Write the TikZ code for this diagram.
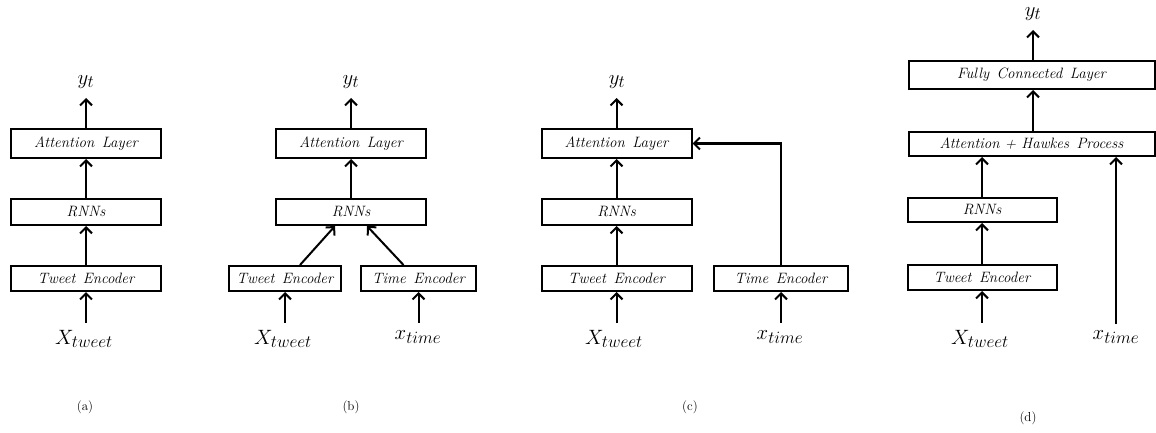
\documentclass[tikz,border=0pt]{standalone}
\usetikzlibrary{arrows.meta,calc}
% larger subscripts for the input and output symbols
\DeclareMathSizes{22}{22}{18}{14}
\DeclareMathSizes{21}{21}{16}{12}
\newcommand\wsp{\hspace{0.5em}}
\tikzset{
  blk/.style={draw, line width=2pt, inner sep=0pt, minimum height=27pt,
    font=\fontsize{15}{17}\selectfont\itshape},
  arr/.style={line width=2pt, -{Straight Barb[length=6pt,width=12pt,line width=2pt]}},
  outlbl/.style={inner sep=0pt, font=\fontsize{21}{23}\selectfont},
  inlbl/.style={inner sep=0pt, font=\fontsize{22}{24}\selectfont},
  subcap/.style={inner sep=0pt, font=\fontsize{13}{15}\selectfont},
}
\begin{document}
\begin{tikzpicture}[x=1pt,y=-1pt]
\useasboundingbox (0,0) rectangle (1156,433);

% ---------- (a) ----------
\node[blk, minimum width=150pt, minimum height=29pt] (aatt) at (86,143.5) {Attention\wsp Layer};
\node[blk, minimum width=150pt, minimum height=26pt] (arnn) at (86,212) {RNNs};
\node[blk, minimum width=150pt, minimum height=25pt] (atw) at (86,278.5) {Tweet\wsp Encoder};
\node[outlbl] (ay) at (86,82) {$y_t$};
\node[inlbl] (ax) at (84,339) {$X_{tweet}$};
\coordinate (ayo) at (86,98);
\coordinate (axi) at (86,323);
\draw[arr] (aatt.north) -- (ayo);
\draw[arr] (arnn.north) -- (aatt.south);
\draw[arr] (atw.north) -- (arnn.south);
\draw[arr] (axi) -- (atw.south);
\node[subcap] (acap) at (85,407) {(a)};

% ---------- (b) ----------
\node[blk, minimum width=150pt, minimum height=29pt] (batt) at (351,143.5) {Attention\wsp Layer};
\node[blk, minimum width=150pt, minimum height=26pt] (brnn) at (351,212) {RNNs};
\node[blk, minimum width=112pt, minimum height=25pt] (btw) at (285,278.5) {Tweet\wsp Encoder};
\node[blk, minimum width=115pt, minimum height=25pt] (btm) at (418.5,278.5) {Time\wsp Encoder};
\node[outlbl] (by) at (351,82) {$y_t$};
\node[inlbl] (bx) at (283,339) {$X_{tweet}$};
\node[inlbl] (bxt) at (418,337) {$x_{time}$};
\coordinate (byo) at (351,98);
\coordinate (bxi) at (285,323);
\coordinate (bti) at (418.5,323);
\draw[arr] (batt.north) -- (byo);
\draw[arr] (brnn.north) -- (batt.south);
\draw[arr] ([xshift=15pt]btw.north) -- ([xshift=-16pt]brnn.south);
\draw[arr] ([xshift=-15pt]btm.north) -- ([xshift=16pt]brnn.south);
\draw[arr] (bxi) -- (btw.south);
\draw[arr] (bti) -- (btm.south);
\node[subcap] (bcap) at (351,407) {(b)};

% ---------- (c) ----------
\node[blk, minimum width=150pt, minimum height=29pt] (catt) at (616.5,143.5) {Attention\wsp Layer};
\node[blk, minimum width=150pt, minimum height=26pt] (crnn) at (616.5,212) {RNNs};
\node[blk, minimum width=150pt, minimum height=25pt] (ctw) at (616.5,278.5) {Tweet\wsp Encoder};
\node[blk, minimum width=134pt, minimum height=25pt] (ctm) at (781,278.5) {Time\wsp Encoder};
\node[outlbl] (cy) at (617,82) {$y_t$};
\node[inlbl] (cx) at (614,339) {$X_{tweet}$};
\node[inlbl] (cxt) at (780,337) {$x_{time}$};
\coordinate (cyo) at (616.5,98);
\coordinate (cxi) at (616.5,323);
\coordinate (cti) at (781,323);
\draw[arr] (catt.north) -- (cyo);
\draw[arr] (crnn.north) -- (catt.south);
\draw[arr] (ctw.north) -- (crnn.south);
\draw[arr] (ctm.north) |- (catt.east);
\draw[arr] (cxi) -- (ctw.south);
\draw[arr] (cti) -- (ctm.south);
\node[subcap] (ccap) at (690,407) {(c)};

% ---------- (d) ----------
\node[blk, minimum width=246pt, minimum height=28pt] (dfc) at (1031.5,75) {Fully\wsp Connected\wsp Layer};
\node[blk, minimum width=246pt, minimum height=24pt] (dah) at (1031.5,144) {Attention + Hawkes\wsp Process};
\node[blk, minimum width=149pt, minimum height=24pt] (drnn) at (982,210) {RNNs};
\node[blk, minimum width=149pt, minimum height=25pt] (dtw) at (982,277.5) {Tweet\wsp Encoder};
\node[outlbl] (dy) at (1033,14) {$y_t$};
\node[inlbl] (dx) at (980,339) {$X_{tweet}$};
\node[inlbl] (dxt) at (1116,337) {$x_{time}$};
\coordinate (dyo) at (1033,30);
\coordinate (dxi) at (982,323);
\coordinate (dti) at (1116,324);
\draw[arr] (dfc.north -| dyo) -- (dyo);
\draw[arr] (dah.north -| dyo) -- (dfc.south -| dyo);
\draw[arr] (drnn.north) -- (dah.south -| drnn.north);
\draw[arr] (dtw.north) -- (drnn.south);
\draw[arr] (dxi) -- (dtw.south);
\draw[arr] (dti) -- (dah.south -| dti);
\node[subcap] (dcap) at (1028,418) {(d)};
\end{tikzpicture}
\end{document}
